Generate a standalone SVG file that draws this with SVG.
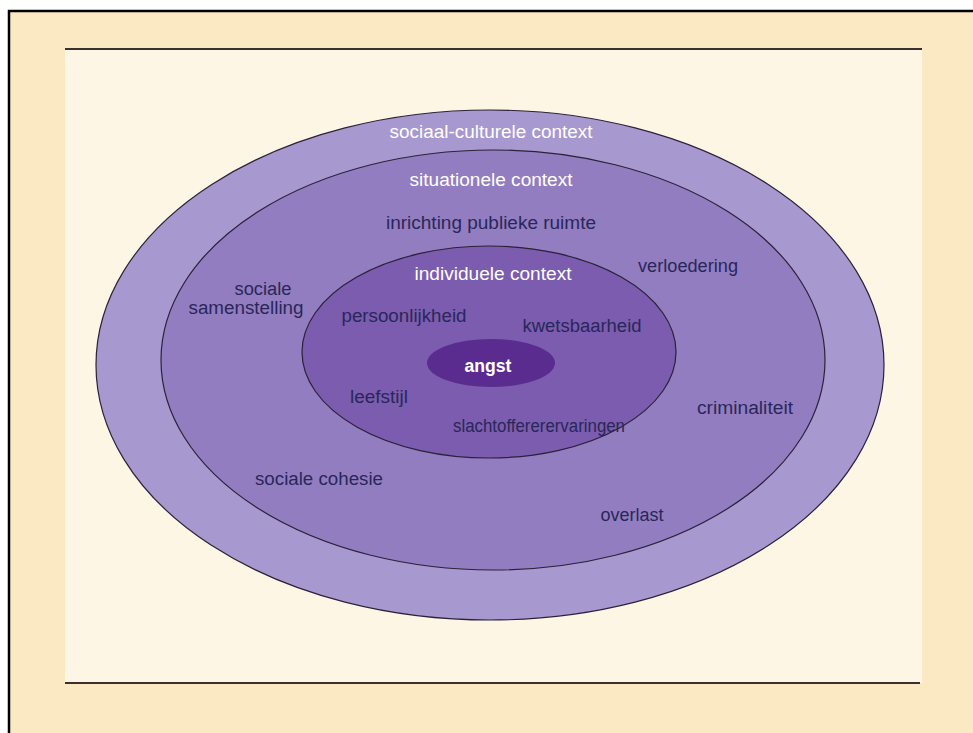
<svg xmlns="http://www.w3.org/2000/svg" width="973" height="733" viewBox="0 0 973 733">
<style>
.t{font-family:"Liberation Sans",Arial,sans-serif;font-size:18px;text-anchor:middle}
.d{fill:#29275a}
.w{fill:#ffffff}
.ring{stroke:#2a2238;stroke-width:1.2}
.rule{stroke:#3a3030;stroke-width:2}
</style>
<rect x="0" y="0" width="973" height="733" fill="#ffffff"/>
<rect x="9" y="11" width="975" height="735" fill="#fbe9c4" stroke="#000000" stroke-width="2.5"/>
<rect x="65" y="49" width="857" height="634" fill="#fdf6e4"/>
<line class="rule" x1="65" y1="49" x2="922" y2="49"/>
<line class="rule" x1="65" y1="683" x2="920" y2="683"/>
<g id="sociaal-culturele">
<ellipse class="ring" cx="490" cy="365" rx="394" ry="255" fill="#a798d0"/>
<text class="t w" x="491" y="138" textLength="203" lengthAdjust="spacingAndGlyphs">sociaal-culturele context</text>
</g>
<g id="situationele">
<ellipse class="ring" cx="493" cy="360" rx="332" ry="210" fill="#937dc1"/>
<text class="t w" x="491" y="186" textLength="163" lengthAdjust="spacingAndGlyphs">situationele context</text>
<text class="t d" x="491" y="229" textLength="210" lengthAdjust="spacingAndGlyphs">inrichting publieke ruimte</text>
<text class="t d" x="688" y="272" textLength="100" lengthAdjust="spacingAndGlyphs">verloedering</text>
<text class="t d" x="263" y="295" textLength="57" lengthAdjust="spacingAndGlyphs" font-size="15">sociale</text>
<text class="t d" x="246" y="314" textLength="115" lengthAdjust="spacingAndGlyphs" font-size="15">samenstelling</text>
<text class="t d" x="745" y="414" textLength="96" lengthAdjust="spacingAndGlyphs">criminaliteit</text>
<text class="t d" x="319" y="485" textLength="128" lengthAdjust="spacingAndGlyphs">sociale cohesie</text>
<text class="t d" x="632" y="521" textLength="63" lengthAdjust="spacingAndGlyphs">overlast</text>
</g>
<g id="individuele">
<ellipse class="ring" cx="489" cy="352" rx="187" ry="106" fill="#7b5cae"/>
<text class="t w" x="493" y="280" textLength="157" lengthAdjust="spacingAndGlyphs">individuele context</text>
<text class="t d" x="404" y="322" textLength="125" lengthAdjust="spacingAndGlyphs">persoonlijkheid</text>
<text class="t d" x="582" y="332" textLength="119" lengthAdjust="spacingAndGlyphs">kwetsbaarheid</text>
<text class="t d" x="379" y="403" textLength="58" lengthAdjust="spacingAndGlyphs">leefstijl</text>
<text class="t d" x="539" y="432" textLength="172" lengthAdjust="spacingAndGlyphs">slachtoffererervaringen</text>
</g>
<g id="angst">
<ellipse cx="491" cy="363" rx="64" ry="24" fill="#5b2c90"/>
<text class="t w" x="488" y="372" textLength="47" lengthAdjust="spacingAndGlyphs" font-weight="bold">angst</text>
</g>
<g id="connectors"></g>
</svg>
